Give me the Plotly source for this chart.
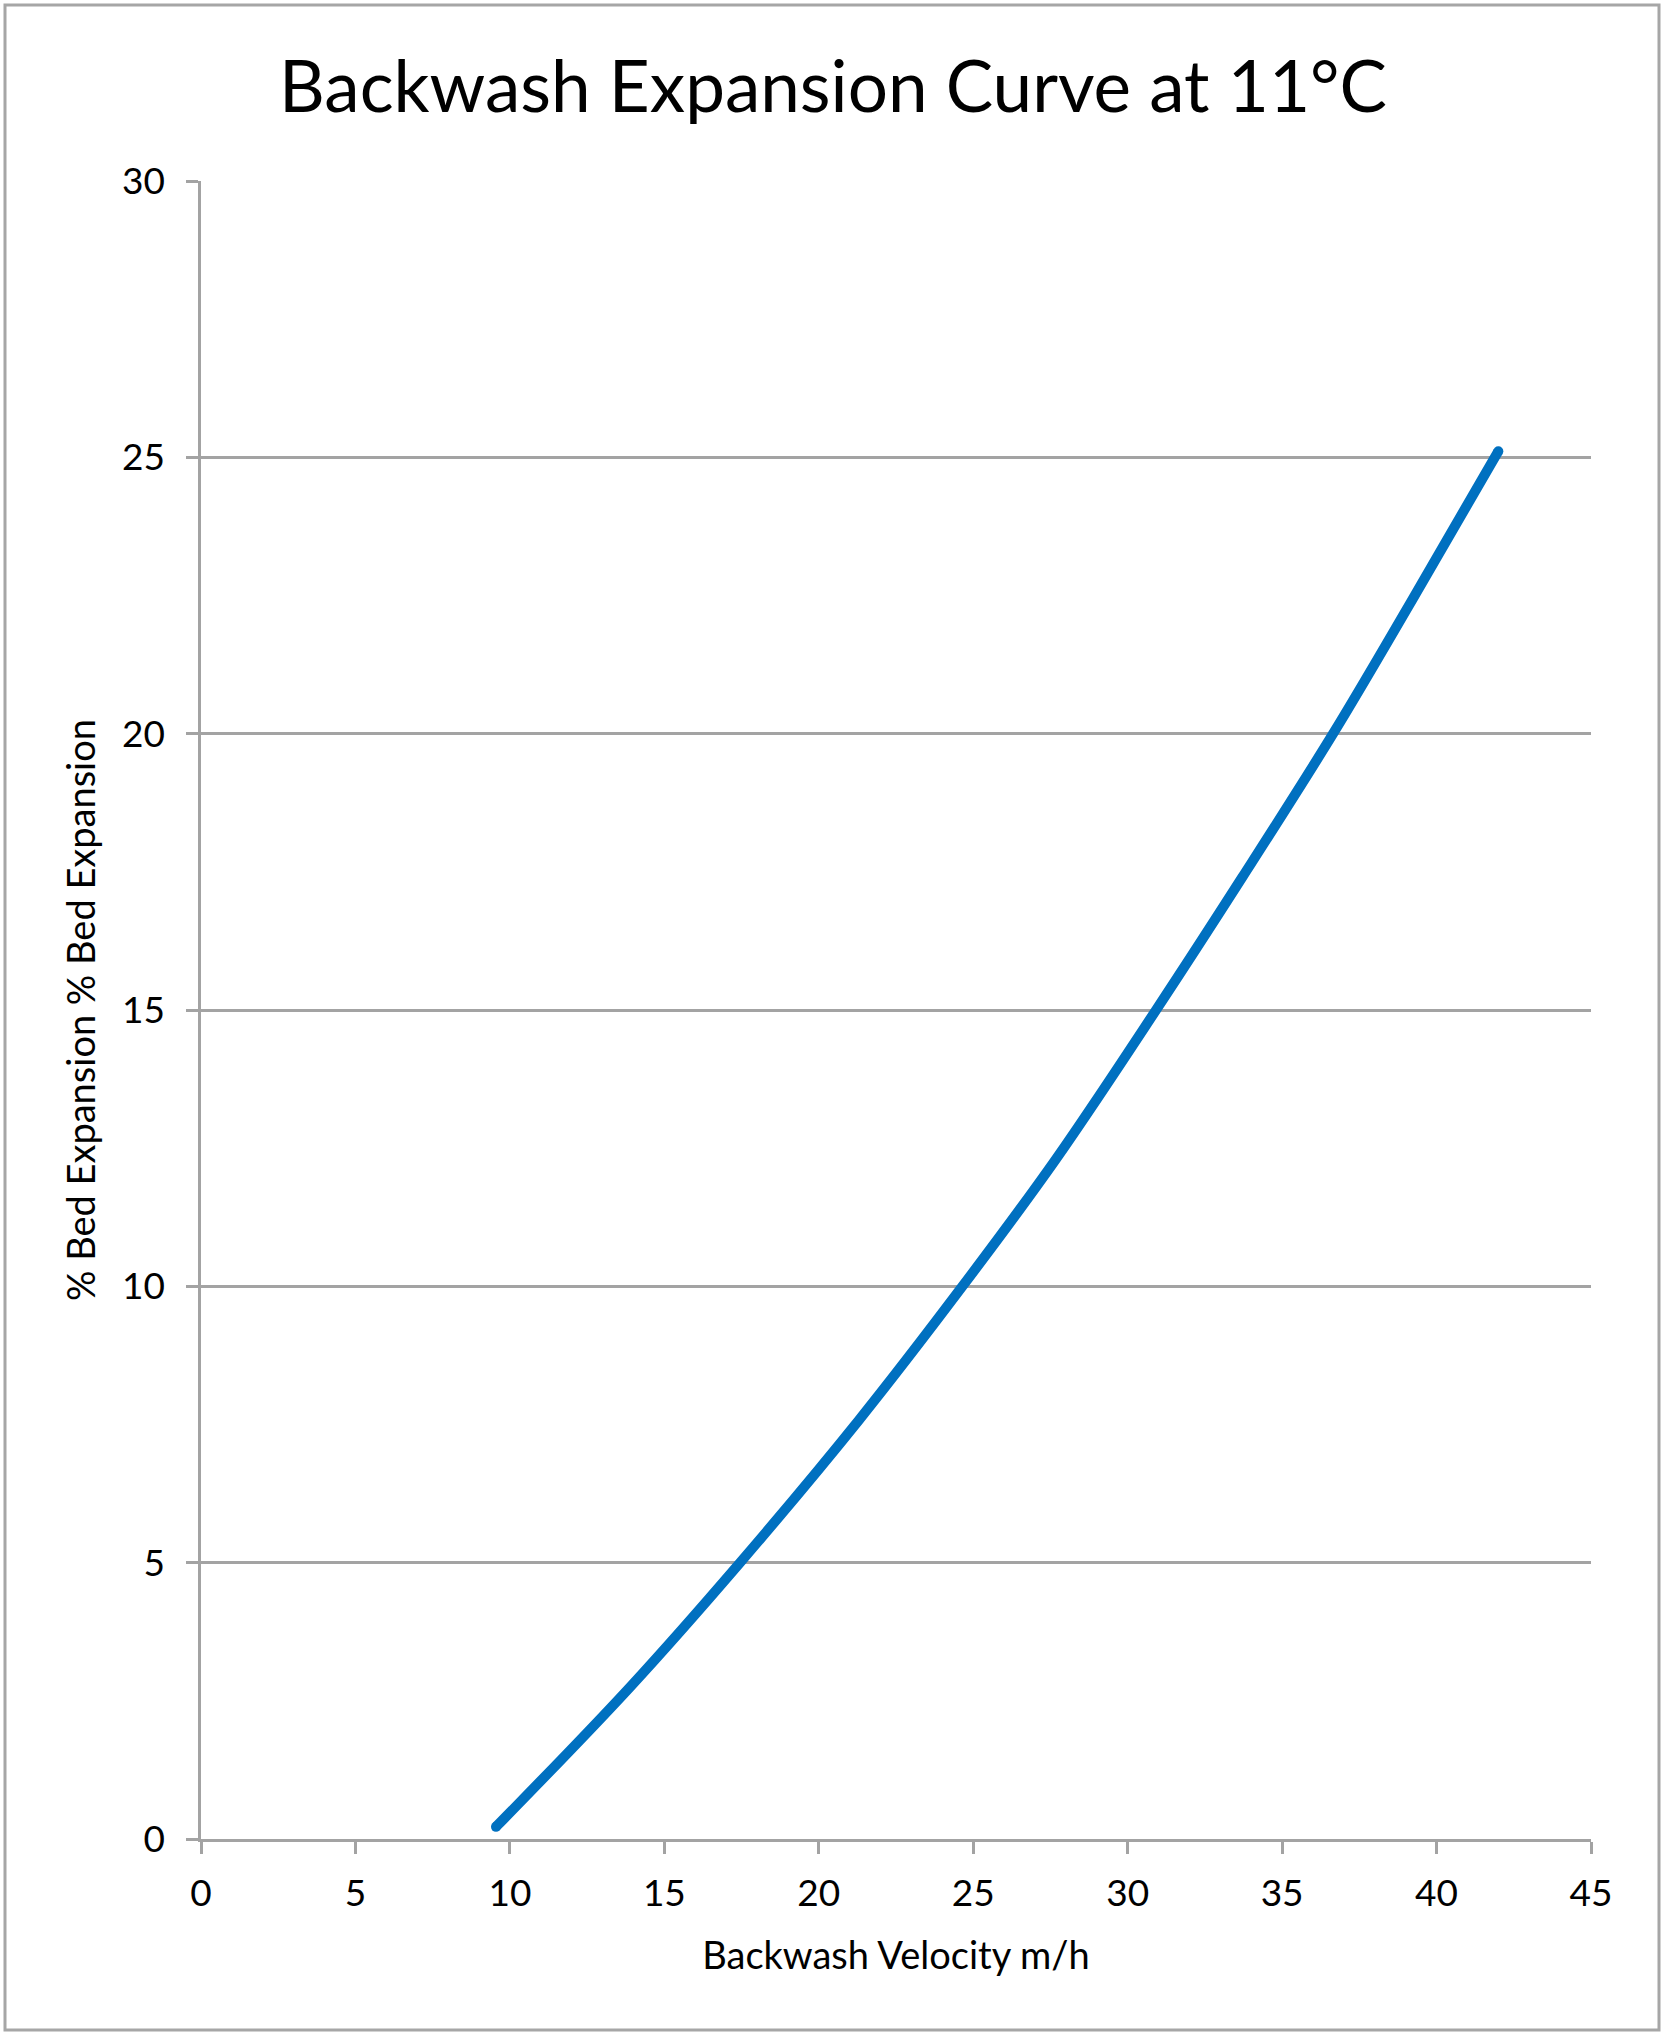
import plotly.graph_objects as go

# Data
velocity = [9.55, 13.89, 17.45, 21.3, 24.65, 27.65, 30.92, 33.72, 36.65, 39.2, 42.0]
expansion = [0.22, 2.75, 5.0, 7.58, 10.0, 12.28, 15.0, 17.41, 20.0, 22.41, 25.11]

x_ticks = [0, 5, 10, 15, 20, 25, 30, 35, 40, 45]
y_ticks = [0, 5, 10, 15, 20, 25, 30]

title_text = "Backwash Expansion Curve at 11°C"
x_title = "Backwash Velocity m/h"
y_title = "% Bed Expansion % Bed Expansion"

FONT = "Lato"
LINE_COLOR = "#0070C0"
GRID = "#A3A3A3"
W, H = 1666, 2037
L, R, T, B = 201, 75, 181, 198

fig = go.Figure()
fig.add_trace(go.Scatter(
    x=velocity, y=expansion, mode="lines",
    line=dict(color=LINE_COLOR, width=10, shape="spline", smoothing=1.0),
    hoverinfo="x+y", showlegend=False,
))
fig.add_trace(go.Scatter(
    x=[velocity[0], velocity[-1]], y=[expansion[0], expansion[-1]], mode="markers",
    marker=dict(color=LINE_COLOR, size=10, line=dict(width=0)),
    hoverinfo="skip", showlegend=False,
))

pw = W - L - R
ph = H - T - B
def px_x(p):
    return (p - L) / pw
def px_y(p):
    return (H - B - p) / ph

fig.add_shape(type="rect", xref="paper", yref="paper",
              x0=px_x(5), x1=px_x(1659), y0=px_y(2030), y1=px_y(5),
              line=dict(color="#A6A6A6", width=3), layer="below")

fig.update_layout(
    width=W, height=H,
    margin=dict(l=L, r=R, t=T, b=B, autoexpand=False),
    paper_bgcolor="white", plot_bgcolor="white",
    font=dict(family=FONT, color="black"),
    title=dict(text=title_text, x=0.5, xanchor="center", xref="container",
               y=1 - 87 / H, yanchor="middle", yref="container",
               font=dict(family=FONT, size=71, color="black")),
    xaxis=dict(
        range=[0, 45], tickvals=x_ticks, ticktext=[str(v) for v in x_ticks],
        showgrid=False, zeroline=False,
        showline=True, linecolor=GRID, linewidth=2.5,
        ticks="outside", ticklen=12, tickwidth=2.5, tickcolor=GRID,
        tickfont=dict(family=FONT, size=37, color="black"),
        ticklabelstandoff=8,
        title=dict(text=x_title, font=dict(family=FONT, size=38, color="black"), standoff=30),
    ),
    yaxis=dict(
        range=[0, 30], tickvals=y_ticks, ticktext=[str(v) for v in y_ticks],
        showgrid=True, gridcolor=GRID, gridwidth=2.5, zeroline=False,
        showline=True, linecolor=GRID, linewidth=2.5,
        ticks="outside", ticklen=12, tickwidth=2.5, tickcolor=GRID,
        tickfont=dict(family=FONT, size=37, color="black"),
        ticklabelstandoff=14,
        title=dict(text=y_title, font=dict(family=FONT, size=38, color="black"), standoff=15),
    ),
)

fig.write_html("out.html", config={"displayModeBar": False},
               post_script="document.body.style.margin='0';")
